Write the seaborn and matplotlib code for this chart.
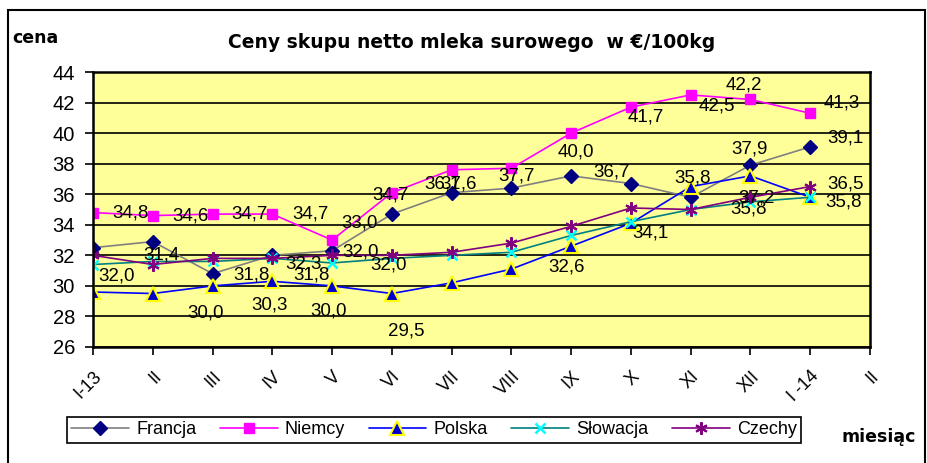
import matplotlib
matplotlib.use("Agg")
import matplotlib.pyplot as plt
import seaborn as sns
from matplotlib.patches import Rectangle

# Data (EUR / 100 kg)
months = ['I-13', 'II', 'III', 'IV', 'V', 'VI', 'VII', 'VIII', 'IX', 'X', 'XI', 'XII', 'I -14', 'II']
francja = [32.5, 32.9, 30.8, 32.0, 32.3, 34.7, 36.1, 36.4, 37.2, 36.7, 35.8, 37.9, 39.1]
niemcy = [34.8, 34.6, 34.7, 34.7, 33.0, 36.1, 37.6, 37.7, 40.0, 41.7, 42.5, 42.2, 41.3]
polska = [29.6, 29.5, 30.0, 30.3, 30.0, 29.5, 30.2, 31.1, 32.6, 34.1, 36.5, 37.2, 35.8]
slowacja = [31.4, 31.6, 31.6, 31.8, 31.5, 31.8, 32.0, 32.2, 33.3, 34.2, 35.0, 35.5, 35.8]
czechy = [32.0, 31.4, 31.8, 31.8, 32.0, 32.0, 32.2, 32.8, 33.9, 35.1, 35.0, 35.8, 36.5]

sns.set_style("white")
plt.rcParams['font.family'] = ['Liberation Sans', 'DejaVu Sans']
plt.rcParams['text.color'] = 'black'
plt.rcParams['xtick.color'] = 'black'
plt.rcParams['ytick.color'] = 'black'

fig = plt.figure(figsize=(9.28, 4.63), dpi=100)
ax = fig.add_axes([93 / 928, 1 - 347 / 463, 777 / 928, 275 / 463])
ax.set_facecolor('#FFFF99')

x = list(range(len(francja)))

# series: values, line colour, marker, marker face, marker edge, size, edge width
series = [
    ('Francja', francja, '#808080', 'D', '#000080', '#000080', 7.5, 1.0),
    ('Niemcy', niemcy, '#FF00FF', 's', '#FF00FF', '#FF00FF', 7, 1.0),
    ('Polska', polska, '#0000FF', '^', '#0000CC', '#FFFF00', 10.5, 1.5),
    ('Słowacja', slowacja, '#008080', 'x', '#00FFFF', '#00FFFF', 7, 1.8),
    ('Czechy', czechy, '#800080', (6, 2, 0), '#800080', '#800080', 9, 1.5),
]

for name, vals, lc, mk, mfc, mec, ms, mew in series:
    sns.lineplot(x=x, y=vals, ax=ax, color=lc, linewidth=1.2, marker=mk,
                 markerfacecolor=mfc, markeredgecolor=mec, markersize=ms,
                 markeredgewidth=mew, label=name)

# data labels: series -> {point index: (dx, dy) in pixels}
label_pos = {
    'Francja': {4: (-29, -13), 5: (-1, 19), 6: (-9, 9), 9: (-19, 12),
                10: (2, 19), 11: (-1, 16), 12: (35, 9)},
    'Niemcy': {0: (38, 0), 1: (38, 0), 2: (37, 0), 3: (38, 0), 4: (27, 17),
               6: (7, -14), 7: (5, -8), 8: (5, -19), 9: (15, -10),
               10: (26, -11), 11: (-7, 14), 12: (32, 10)},
    'Polska': {2: (-7, -27), 3: (-3, -24), 4: (-3, -25), 5: (14, -37),
               8: (-5, -21), 9: (20, -10), 11: (6, -22), 12: (33, -5)},
    'Czechy': {0: (24, -21), 1: (9, 9), 2: (39, -17), 3: (39, -17),
               4: (29, 3), 5: (-3, -10), 11: (-2, -12), 12: (35, 3)},
}
values = {s[0]: s[1] for s in series}
for name, pos in label_pos.items():
    for i, (dx, dy) in pos.items():
        v = values[name][i]
        ax.annotate(f'{v:.1f}'.replace('.', ','), xy=(i, v), xytext=(dx, dy),
                    textcoords='offset pixels', ha='center', va='center',
                    fontsize=13.5, color='black', zorder=10)

ax.set_xlim(0, 13)
ax.set_ylim(26, 44)
ax.set_yticks(range(26, 45, 2))
ax.set_xticks(range(len(months)))
ax.set_xticklabels(months, rotation=45, ha='right', rotation_mode='anchor', fontsize=13)
ax.tick_params(axis='y', labelsize=14.5, length=6, width=1.2, direction='out', pad=7, left=True)
ax.tick_params(axis='x', length=6, width=1.2, direction='out', pad=9, bottom=True)
ax.grid(axis='y', color='black', linewidth=1.2)
ax.set_axisbelow(True)
for sp in ax.spines.values():
    sp.set_color('black')
    sp.set_linewidth(1.8)
ax.set_xlabel('')
ax.set_ylabel('')

leg = ax.legend(loc='center', bbox_to_anchor=(434 / 928, 1 - 430 / 463),
                bbox_transform=fig.transFigure, ncol=5, fontsize=13, frameon=True,
                fancybox=False, edgecolor='black', framealpha=1, handlelength=3.2,
                columnspacing=1.3, handletextpad=0.4, borderpad=0.25)
leg.get_frame().set_linewidth(1.2)

bold = dict(fontweight='bold', family=['DejaVu Sans'], color='black')
fig.text(472 / 928, 1 - 42 / 463, 'Ceny skupu netto mleka surowego  w €/100kg',
         ha='center', va='center', fontsize=13.5, **bold)
fig.text(12 / 928, 1 - 38 / 463, 'cena', ha='left', va='center', fontsize=12.5, **bold)
fig.text(842 / 928, 1 - 437 / 463, 'miesiąc', ha='left', va='center', fontsize=12.5, **bold)

# outer chart frame
fig.patches.append(Rectangle((8 / 928, -0.05), 917 / 928, 1.05 - 10 / 463,
                             transform=fig.transFigure, fill=False,
                             edgecolor='black', linewidth=1.5))

fig.savefig('out.png', dpi=100)
